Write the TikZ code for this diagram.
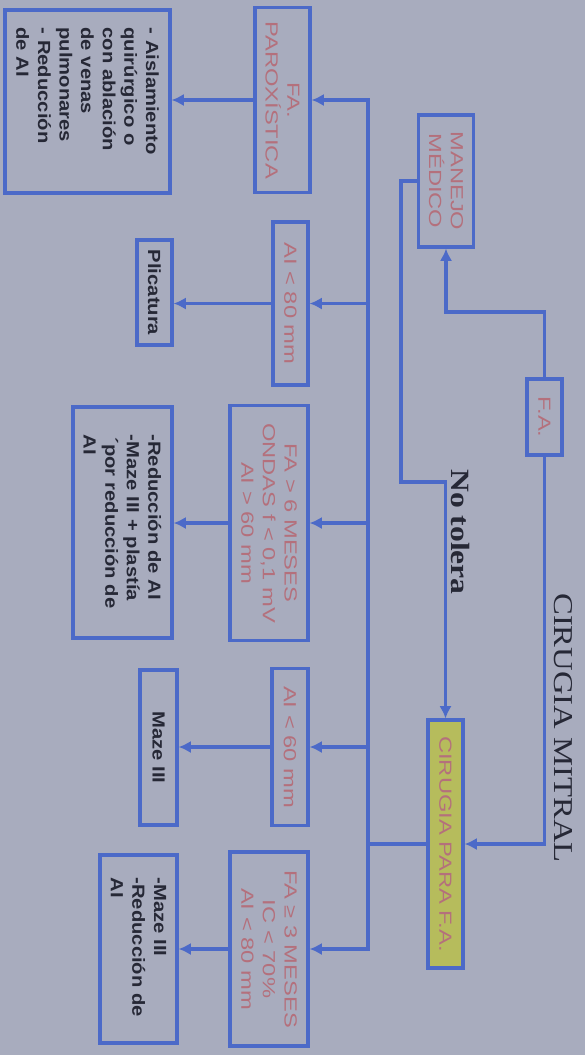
\documentclass[tikz,border=0pt]{standalone}
\usepackage{fontspec}
\setmainfont[FakeStretch=1.2]{Liberation Serif}
\newfontfamily\rosefont[FakeStretch=1.35]{Liberation Sans}
\newfontfamily\darkfont[FakeStretch=1.15]{Liberation Sans}
\usepackage{tikz}
\usetikzlibrary{arrows.meta}

\definecolor{bgpaper}{RGB}{168,172,190}
\definecolor{lineblue}{RGB}{76,106,200}
\definecolor{rosetxt}{RGB}{180,112,124}
\definecolor{darktxt}{RGB}{38,40,54}
\definecolor{cirfill}{RGB}{182,188,92}

\tikzset{
  box/.style={draw=lineblue, line width=1.8pt, rotate=-90, inner sep=2pt},
  cond/.style={box, text=rosetxt, align=center,
    font=\rosefont\fontsize{10}{12.3}\selectfont},
  treat/.style={box, text=darktxt, align=left,
    font=\darkfont\bfseries\fontsize{10}{12.3}\selectfont},
  link/.style={draw=lineblue, line width=1.8pt},
  flow/.style={link, ->},
}

\begin{document}
\begin{tikzpicture}[x=0.02cm,y=-0.02cm,>={Latex[length=7pt,width=7pt]}]
    \useasboundingbox (0,0) rectangle (585,1055);
    \fill[bgpaper] (0,0) rectangle (585,1055);

    % upper part
    \node[rotate=-90, text=darktxt, font=\fontsize{15.5}{18}\selectfont] (titulo) at (563,728) {CIRUGIA MITRAL};
    \node[cond, minimum width=1.52cm, minimum height=0.7cm] (fa) at (544.5,417) {F.A.};
    \node[cond, minimum width=2.64cm, minimum height=1.1cm] (manejo) at (446,181) {MANEJO\\MÉDICO};
    \node[cond, fill=cirfill, minimum width=4.96cm, minimum height=0.7cm] (cirfa) at (445.5,844) {CIRUGIA PARA F.A.};
    \node[rotate=-90, text=darktxt, font=\bfseries\fontsize{15}{18}\selectfont] (notolera) at (461,532) {No tolera};

    \draw[flow] (fa.west) -- (fa.west |- 0,312) -| (manejo.east);
    \draw[flow] (fa.east) |- (cirfa.north);
    \draw[flow] (manejo.south) -- ++(-16,0) |- (cirfa.west |- 0,482) -- (cirfa.west);

    % conditions
    \node[cond, minimum width=3.7cm, minimum height=1.1cm] (paro) at (282.5,100) {FA.\\PAROXÍSTICA};
    \node[cond, minimum width=3.26cm, minimum height=0.7cm] (ai80) at (290.5,303.5) {AI < 80 mm};
    \node[cond, minimum width=4.7cm, minimum height=1.56cm] (fa6) at (269,523) {FA > 6 MESES\\ONDAS f < 0,1 mV\\AI > 60 mm};
    \node[cond, minimum width=3.14cm, minimum height=0.72cm] (ai60) at (290,747) {AI < 60 mm};
    \node[cond, minimum width=3.88cm, minimum height=1.56cm] (fa3) at (269,949) {FA ≥ 3 MESES\\IC < 70\%\\AI < 80 mm};

    \coordinate (bus) at (368,0);
    \draw[link] (cirfa.south) -- (cirfa.south -| bus);
    \draw[flow] (bus |- cirfa.south) |- (paro.north);
    \draw[flow] (bus |- cirfa.south) |- (fa3.north);
    \foreach \c in {ai80,fa6,ai60}
      \draw[flow] (bus |- \c.north) -- (\c.north);

    % treatments
    \node[treat, minimum width=3.66cm, minimum height=3.3cm, text width=2.96cm, inner xsep=0.35cm] (aisla) at (87.5,101.5)
      {- Aislamiento\\quirúrgico o\\con ablación\\de venas\\pulmonares\\- Reducción\\de AI};
    \node[treat, align=center, minimum width=2.1cm, minimum height=0.7cm] (plicatura) at (154.5,292.5) {Plicatura};
    \node[treat, minimum width=4.62cm, minimum height=1.98cm, text width=3.52cm, inner xsep=0.55cm] (reduccion) at (122.5,522.5)
      {-Reducción de AI\\-Maze III + plastía\\\,´por reducción de\\AI};
    \node[treat, align=center, minimum width=3.1cm, minimum height=0.74cm] (maze) at (158.5,747.5) {Maze III};
    \node[treat, minimum width=3.76cm, minimum height=1.54cm, text width=2.86cm, inner xsep=0.45cm] (mazered) at (138.5,949)
      {-Maze III\\-Reducción de\\AI};

    \draw[flow] (paro.south) -- (paro.south -| aisla.north);
    \draw[flow] (ai80.south) -- (ai80.south -| plicatura.north);
    \draw[flow] (fa6.south) -- (fa6.south -| reduccion.north);
    \draw[flow] (ai60.south) -- (ai60.south -| maze.north);
    \draw[flow] (fa3.south) -- (fa3.south -| mazered.north);
\end{tikzpicture}
\end{document}
